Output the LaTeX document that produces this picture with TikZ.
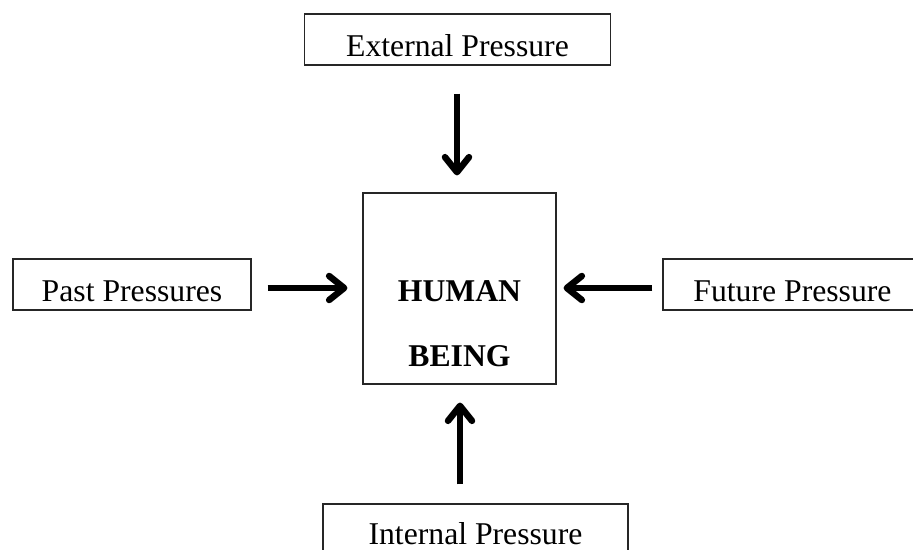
\documentclass[tikz,border=0pt]{standalone}
\usepackage{fontspec}
\setmainfont{Liberation Serif}
\usetikzlibrary{arrows.meta}
\begin{document}
\begin{tikzpicture}[x=1pt,y=-1pt,
  pbox/.style={draw=black!85,line width=1.2pt,inner sep=0pt,
    font=\fontsize{31.7}{38}\selectfont,text height=34pt,text depth=0pt},
  btext/.style={inner sep=0pt,anchor=base,font=\fontsize{31.7}{38}\selectfont\bfseries},
  parrow/.style={line width=6.5pt,-{Straight Barb[length=15pt,width=24pt,round]}}]
\useasboundingbox (0,0) rectangle (913,549);
\clip (0,0) rectangle (913,549);
\node[pbox,minimum width=306pt,minimum height=51pt] (ext) at (457.5,39.5) {External Pressure};
\node[pbox,minimum width=238pt,minimum height=51pt] (past) at (132,284.5) {Past Pressures};
\node[pbox,minimum width=259pt,minimum height=51pt] (fut) at (792.5,284.5) {Future Pressure};
\node[pbox,minimum width=305pt,minimum height=51pt,text height=29pt] (int) at (475.5,529.5) {Internal Pressure};
\node[draw=black!85,line width=1.2pt,minimum width=193pt,minimum height=191pt,inner sep=0pt] (hb) at (459.5,288.5) {};
\node[btext] (t1) at (459.5,301) {HUMAN};
\node[btext] (t2) at (459.5,366) {BEING};
\draw[parrow,shorten <=28pt,shorten >=17pt] (ext.south -| 457,0) -- (hb.north -| 457,0);
\draw[parrow,shorten <=19pt,shorten >=18pt] (int.north -| 460,0) -- (hb.south -| 460,0);
\draw[parrow,shorten <=16pt,shorten >=15pt] ([yshift=-3.5pt]past.east) -- ([yshift=-3.5pt]past.east -| hb.west);
\draw[parrow,shorten <=10pt,shorten >=7pt] ([yshift=-3.5pt]fut.west) -- ([yshift=-3.5pt]fut.west -| hb.east);
\end{tikzpicture}
\end{document}
